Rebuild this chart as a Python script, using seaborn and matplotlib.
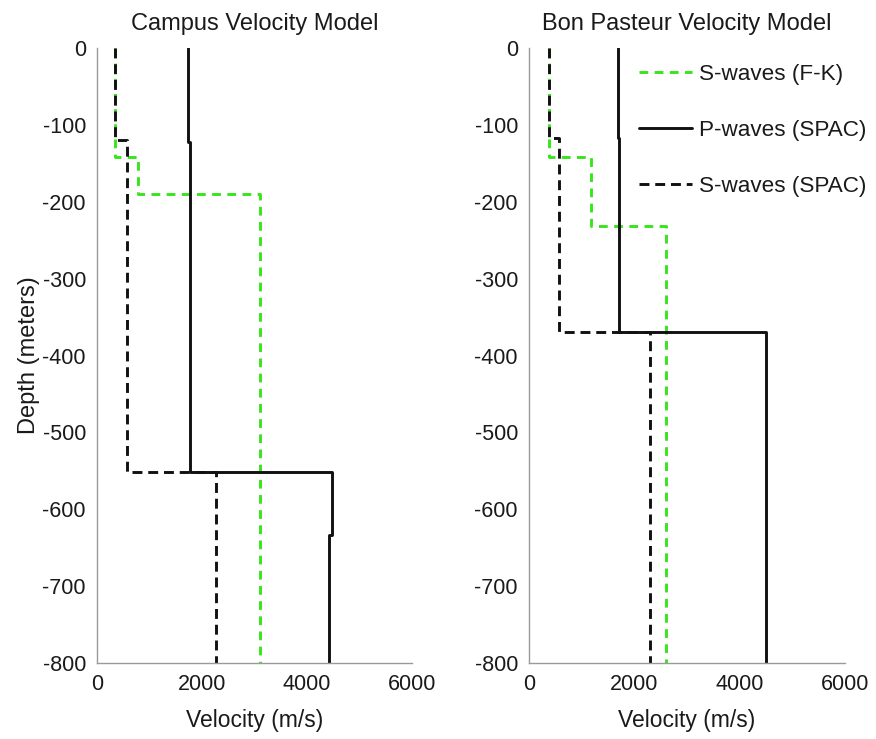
import numpy as np
import pandas as pd
import matplotlib
matplotlib.use("Agg")
import matplotlib.pyplot as plt
import seaborn as sns

# ---- data (velocity in m/s per layer, layer bottom depth in m) ----
campus_fk_vel = [343, 781, 3105]
campus_fk_bottom = [142, 190, 800]
campus_p_vel = [1733, 1771, 4476, 4419]
campus_p_bottom = [122, 551, 633, 800]
campus_s_vel = [343, 571, 2270]
campus_s_bottom = [120, 551, 800]

bp_fk_vel = [380, 1176, 2600]
bp_fk_bottom = [142, 231, 800]
bp_p_vel = [1689, 1700, 4497]
bp_p_bottom = [117, 369, 800]
bp_s_vel = [380, 569, 2296]
bp_s_bottom = [117, 369, 800]

titles = ["Campus Velocity Model", "Bon Pasteur Velocity Model"]
series_labels = ["S-waves (F-K)", "P-waves (SPAC)", "S-waves (SPAC)"]
x_ticks = [0, 2000, 4000, 6000]
y_ticks = [0, -100, -200, -300, -400, -500, -600, -700, -800]


def step_profile(vel, bottom):
    xs, ys = [], []
    top = 0
    for v, b in zip(vel, bottom):
        xs += [v, v]
        ys += [-top, -b]
        top = b
    return pd.DataFrame({"Velocity": xs, "Depth": ys})


sns.set_style("white")
plt.rcParams["font.family"] = ["Liberation Sans", "DejaVu Sans"]
plt.rcParams["axes.unicode_minus"] = False

FS = 15.5
GREEN = "#38E41C"
BLACK = "#111111"
GRAY = "#9a9a9a"
TXT = "#1a1a1a"

fig = plt.figure(figsize=(8.76, 7.39), dpi=100)
ax1 = fig.add_axes([97 / 876, 1 - 663 / 739, 315 / 876, 615 / 739])
ax2 = fig.add_axes([529 / 876, 1 - 663 / 739, 316 / 876, 615 / 739])

datasets = [
    [(campus_fk_vel, campus_fk_bottom), (campus_p_vel, campus_p_bottom), (campus_s_vel, campus_s_bottom)],
    [(bp_fk_vel, bp_fk_bottom), (bp_p_vel, bp_p_bottom), (bp_s_vel, bp_s_bottom)],
]
styles = [
    dict(color=GREEN, linewidth=2.1, dashes=(3.0, 2.2)),
    dict(color=BLACK, linewidth=2.1, dashes=()),
    dict(color=BLACK, linewidth=2.1, dashes=(3.4, 2.0)),
]

for ax, data, title in zip([ax1, ax2], datasets, titles):
    for (vel, bot), st, lab in zip(data, styles, series_labels):
        df = step_profile(vel, bot)
        sns.lineplot(data=df, x="Velocity", y="Depth", sort=False, estimator=None,
                     ax=ax, label=lab, color=st["color"], linewidth=st["linewidth"])
        ln = ax.lines[-1]
        if st["dashes"]:
            ln.set_dashes(st["dashes"])
    ax.set_xlim(0, 6000)
    ax.set_ylim(-800, 0)
    ax.set_xticks(x_ticks)
    ax.set_yticks(y_ticks)
    ax.set_xticklabels([str(t) for t in x_ticks])
    ax.set_yticklabels([str(t) for t in y_ticks])
    ax.tick_params(direction="in", length=4, width=1, color=GRAY,
                   labelsize=FS, labelcolor=TXT, pad=8)
    for s in ["top", "right"]:
        ax.spines[s].set_visible(False)
    for s in ["left", "bottom"]:
        ax.spines[s].set_color(GRAY)
        ax.spines[s].set_linewidth(1.0)
    ax.set_title(title, fontsize=17, color=TXT, pad=13)
    ax.set_xlabel("Velocity (m/s)", fontsize=16.5, color=TXT, labelpad=10)
    ax.set_ylabel("")
    if ax.get_legend() is not None:
        ax.get_legend().remove()

ax1.set_ylabel("Depth (meters)", fontsize=17, color=TXT, labelpad=2)

handles, labels = ax2.get_legend_handles_labels()
leg = ax2.legend(handles, labels, loc="upper left",
                 bbox_to_anchor=(639 / 876, 1 - 64 / 739),
                 bbox_transform=fig.transFigure, frameon=False, fontsize=16.2,
                 handlelength=2.35, handletextpad=0.3, labelspacing=1.55,
                 borderpad=0, borderaxespad=0)
for t in leg.get_texts():
    t.set_color(TXT)

fig.savefig("out.png", dpi=100)
